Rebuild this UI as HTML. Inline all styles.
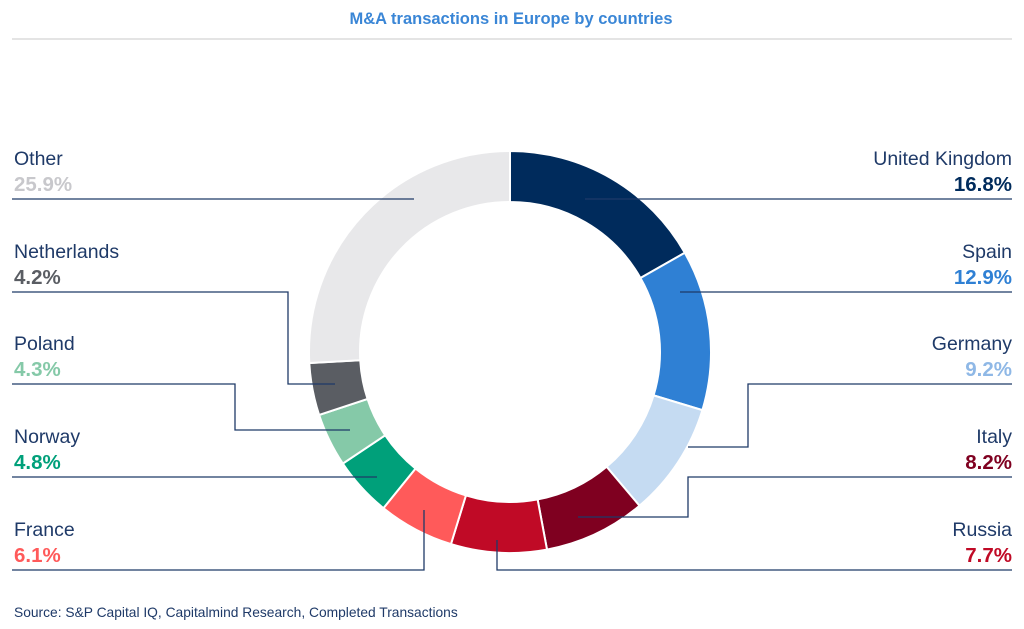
<!DOCTYPE html>
<html><head><meta charset="utf-8"><style>
body{margin:0;background:#fff;font-family:"Liberation Sans",Arial,sans-serif;}
#wrap{position:relative;width:1024px;height:629px;overflow:hidden;}
</style></head><body>
<div id="wrap">
<svg id="svg" width="1024" height="629" viewBox="0 0 1024 629">
<text x="511" y="24" text-anchor="middle" font-size="16.5" font-weight="bold" fill="#3a86d6">M&amp;A transactions in Europe by countries</text>
<line x1="12" y1="39" x2="1012" y2="39" stroke="#c8c8c8" stroke-width="1"/>
<g id="slices"></g>
<g id="leaders" fill="none" stroke="#1f3a68" stroke-width="1.3">
<polyline points="1012,199 585,199"/>
<polyline points="1012,292 680,292"/>
<polyline points="1012,384 748,384 748,447 688,447"/>
<polyline points="1012,477 688,477 688,517 578,517"/>
<polyline points="1012,570 497,570 497,540"/>
<polyline points="12,570 424,570 424,510"/>
<polyline points="12,477 377,477"/>
<polyline points="12,384 235,384 235,430 350,430"/>
<polyline points="12,292 288,292 288,384 335,384"/>
<polyline points="12,199 414,199"/>
</g>
<g id="labels"></g>
<text x="14" y="617" font-size="13.8" fill="#1f3a68">Source: S&amp;P Capital IQ, Capitalmind Research, Completed Transactions</text>
</svg>
</div>
<script>
const categories=["United Kingdom","Spain","Germany","Italy","Russia","France","Norway","Poland","Netherlands","Other"];
const values=[16.8,12.9,9.2,8.2,7.7,6.1,4.8,4.3,4.2,25.9];
const colors=["#002b5c","#2f80d4","#c5dbf2","#7f0020","#c00a26","#ff5a5a","#00a07a","#85c9a8","#5a5d63","#e8e8ea"];
const pctColors=["#002b5c","#2f80d4","#8fb8e6","#7f0020","#c00a26","#ff5a5a","#00a07a","#85c9a8","#5a5d63","#c8c8cc"];
const NS="http://www.w3.org/2000/svg";
const cx=510,cy=352,R=201,r=150;
const total=values.reduce((a,b)=>a+b,0);
function pt(a,rad){return [cx+rad*Math.sin(a),cy-rad*Math.cos(a)];}
let acc=0;
const g=document.getElementById('slices');
values.forEach((v,i)=>{
  const a0=acc/total*2*Math.PI; acc+=v; const a1=acc/total*2*Math.PI;
  const L=(a1-a0)>Math.PI?1:0;
  const [x0,y0]=pt(a0,R),[x1,y1]=pt(a1,R),[x2,y2]=pt(a1,r),[x3,y3]=pt(a0,r);
  const p=document.createElementNS(NS,'path');
  p.setAttribute('d',`M${x0},${y0}A${R},${R} 0 ${L} 1 ${x1},${y1}L${x2},${y2}A${r},${r} 0 ${L} 0 ${x3},${y3}Z`);
  p.setAttribute('fill',colors[i]);p.setAttribute('stroke','#fff');p.setAttribute('stroke-width','2');
  
  
  g.appendChild(p);
});
const lg=document.getElementById('labels');
const rowsY=[165,258,350,443,536];
categories.forEach((c,i)=>{
  let right=i<5, row=right?i:9-i;
  const y=rowsY[row];
  const x=right?1012:14, anchor=right?'end':'start';
  const t=document.createElementNS(NS,'text');
  t.setAttribute('x',x);t.setAttribute('y',y);t.setAttribute('text-anchor',anchor);
  t.setAttribute('font-size','19.5');t.setAttribute('fill','#1f3a68');t.textContent=c;
  
  
  lg.appendChild(t);
  const p=document.createElementNS(NS,'text');
  p.setAttribute('x',x);p.setAttribute('y',y+26);p.setAttribute('text-anchor',anchor);
  p.setAttribute('font-size','20.5');p.setAttribute('font-weight','bold');p.setAttribute('fill',pctColors[i]);
  p.textContent=values[i].toFixed(1)+'%';
  
  
  lg.appendChild(p);
});
</script>
</body></html>
